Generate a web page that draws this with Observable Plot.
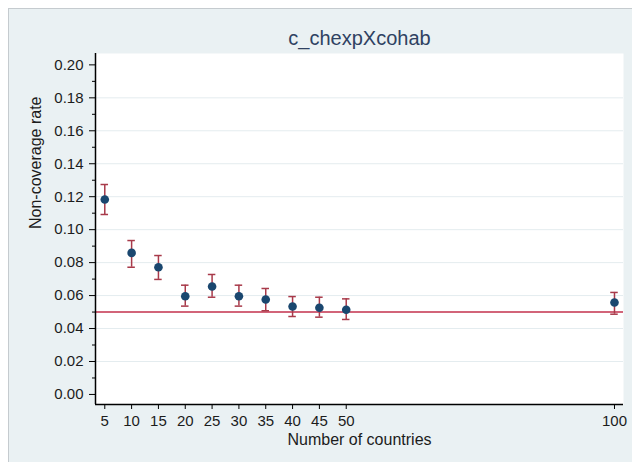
<!DOCTYPE html>
<html>
<head>
<meta charset="utf-8">
<script src="https://cdn.jsdelivr.net/npm/d3@7"></script>
<script src="https://cdn.jsdelivr.net/npm/@observablehq/plot@0.6"></script>
<style>
  html, body { margin: 0; padding: 0; background: #ffffff; }
  #panel {
    position: absolute; left: 8px; top: 8px; width: 623px; height: 453px;
    background: #eaf1f3; border-left: 1px solid #c5cbcf; border-top: 1px solid #c5cbcf;
  }
  #chart { position: absolute; left: 0; top: 0; }
</style>
</head>
<body>
<div id="panel"></div>
<div id="chart"></div>
<script>
// Simulation results: non-coverage rate of the interaction term by number of countries
const countries = [5, 10, 15, 20, 25, 30, 35, 40, 45, 50, 100];
const rate  = [0.1183, 0.0859, 0.0772, 0.0596, 0.0655, 0.0596, 0.0576, 0.0534, 0.0526, 0.0514, 0.0558];
const lower = [0.1092, 0.0772, 0.0698, 0.0536, 0.0590, 0.0536, 0.0508, 0.0473, 0.0469, 0.0455, 0.0487];
const upper = [0.1274, 0.0934, 0.0843, 0.0663, 0.0728, 0.0663, 0.0643, 0.0594, 0.0590, 0.0580, 0.0619];
const nominal = 0.05;

const xTicks = [5, 10, 15, 20, 25, 30, 35, 40, 45, 50, 100];
const yTicks = [0, 0.02, 0.04, 0.06, 0.08, 0.10, 0.12, 0.14, 0.16, 0.18, 0.20];
const yMinor = [0.01, 0.03, 0.05, 0.07, 0.09, 0.11, 0.13, 0.15, 0.17, 0.19];
const gridLines = [0.02, 0.04, 0.06, 0.08, 0.10, 0.12, 0.14, 0.16, 0.18];

const titleText = "c_chexpXcohab";
const yTitle = "Non-coverage rate";
const xTitle = "Number of countries";

const rows = countries.map((n, i) => ({ n, rate: rate[i], lo: lower[i], hi: upper[i] }));

const xDomain = [3.27, 101.68];
const yDomain = [-0.0061, 0.2069];
const capHalf = 0.7; // half-width of the error-bar caps, in x units

const barColor = "#a83a4a";
const font = "'Liberation Sans', Arial, sans-serif";

const chart = Plot.plot({
  width: 632,
  height: 462,
  marginLeft: 95,
  marginRight: 9,
  marginTop: 53,
  marginBottom: 58,
  style: { background: "transparent", fontFamily: font, fontSize: "15px", color: "#1c1c1c" },
  x: { domain: xDomain },
  y: { domain: yDomain },
  marks: [
    Plot.frame({ fill: "white", stroke: null }),
    Plot.gridY(gridLines, { stroke: "#e4ecef", strokeOpacity: 1, strokeWidth: 1 }),
    Plot.ruleY([nominal], { stroke: "#c3304d", strokeWidth: 1.5 }),
    Plot.ruleX(rows, { x: "n", y1: "lo", y2: "hi", stroke: barColor, strokeWidth: 1.5 }),
    Plot.ruleY(rows, { y: "lo", x1: d => d.n - capHalf, x2: d => d.n + capHalf, stroke: barColor, strokeWidth: 1.5 }),
    Plot.ruleY(rows, { y: "hi", x1: d => d.n - capHalf, x2: d => d.n + capHalf, stroke: barColor, strokeWidth: 1.5 }),
    Plot.dot(rows, { x: "n", y: "rate", r: 4.3, fill: "#1a476f", stroke: null }),
    Plot.ruleX([xDomain[0]], { stroke: "#000", strokeWidth: 1.5 }),
    Plot.ruleY([yDomain[0]], { stroke: "#000", strokeWidth: 1.5 }),
    Plot.axisY(yTicks, { tickSize: 6, tickPadding: 6, tickFormat: d3.format(".2f"), label: null, stroke: "#000", fontSize: 15 }),
    Plot.axisY(yMinor, { tickSize: 3, tickFormat: () => "", label: null, stroke: "#000" }),
    Plot.axisX(xTicks, { tickSize: 5, tickPadding: 6, label: null, stroke: "#000", fontSize: 15 }),
    Plot.text([titleText], { frameAnchor: "top", dy: -15, lineAnchor: "middle", fontSize: 20, fill: "#2f4262", style: "letter-spacing:0.7px" }),
    Plot.text([yTitle], { frameAnchor: "left", dx: -60, rotate: -90, lineAnchor: "middle", fontSize: 16, fill: "#1c1c1c" }),
    Plot.text([xTitle], { frameAnchor: "bottom", dy: 35, lineAnchor: "middle", fontSize: 16, fill: "#1c1c1c" })
  ]
});

document.getElementById("chart").append(chart);
</script>
</body>
</html>
